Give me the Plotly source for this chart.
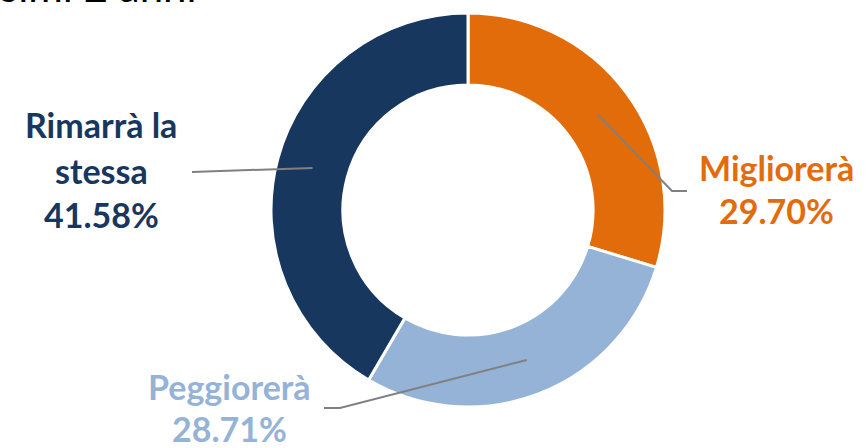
import math
import plotly.graph_objects as go

# Survey answers and shares (%)
labels = ["Migliorerà", "Peggiorerà", "Rimarrà la stessa"]
values = [29.70, 28.71, 41.58]
colors = ["#E36C0A", "#95B3D7", "#17375E"]
label_lines = [["Migliorerà", "29.70%"], ["Peggiorerà", "28.71%"], ["Rimarrà la", "stessa", "41.58%"]]

W, H = 866, 448
CX, CY, R_OUT, HOLE = 468, 210, 197, 0.635
LABEL_SIZE = 34


def px(x, y):
    return x / W, 1 - y / H


fig = go.Figure(
    go.Pie(
        labels=labels,
        values=values,
        hole=HOLE,
        sort=False,
        direction="clockwise",
        rotation=0,
        marker=dict(colors=colors, line=dict(color="white", width=3)),
        textinfo="none",
        hoverinfo="label+percent",
        showlegend=False,
        domain=dict(
            x=[(CX - R_OUT) / W, (CX + R_OUT) / W],
            y=[(H - CY - R_OUT) / H, (H - CY + R_OUT) / H],
        ),
    )
)

# leader line start: middle of the ring at each slice's mid angle
total = sum(values)
r_mid = R_OUT * (1 + HOLE) / 2
starts = []
acc = 0
for v in values:
    a = math.radians((acc + v / 2) / total * 360)
    starts.append((CX + r_mid * math.sin(a), CY - r_mid * math.cos(a)))
    acc += v

# elbow points and label anchors (pixels)
elbows = [[(672, 191), (687, 191)], [(340, 408), (324, 408)], [(192, 172)]]
label_pos = [(776, [181, 225]), (230, [400, 442]), (101, [138, 184, 228])]

shapes = []
for s, pts in zip(starts, elbows):
    path_pts = [s] + pts
    d = "M " + " L ".join(f"{px(x, y)[0]:.5f},{px(x, y)[1]:.5f}" for x, y in path_pts)
    shapes.append(dict(type="path", path=d, xref="paper", yref="paper",
                       line=dict(color="#808080", width=2)))

annotations = []
for (cx, baselines), lines, col in zip(label_pos, label_lines, colors):
    for yb, t in zip(baselines, lines):
        x, y = px(cx, yb + 0.25 * LABEL_SIZE)
        annotations.append(dict(
            text=f"<b>{t}</b>", x=x, y=y, xref="paper", yref="paper",
            xanchor="center", yanchor="bottom", showarrow=False,
            font=dict(family="Lato", size=LABEL_SIZE, color=col),
        ))

# chart heading, partly cut by the top edge
hx, hy = px(199, 13)
annotations.append(dict(
    text="Aspettative per i prossimi 2 anni", x=hx, y=hy, xref="paper", yref="paper",
    xanchor="right", yanchor="bottom", showarrow=False,
    font=dict(family="Lato", size=42, color="#000000"),
))

fig.update_layout(
    width=W, height=H,
    margin=dict(l=0, r=0, t=0, b=0),
    paper_bgcolor="white", plot_bgcolor="white",
    shapes=shapes, annotations=annotations,
)

fig.write_html("out.html")
